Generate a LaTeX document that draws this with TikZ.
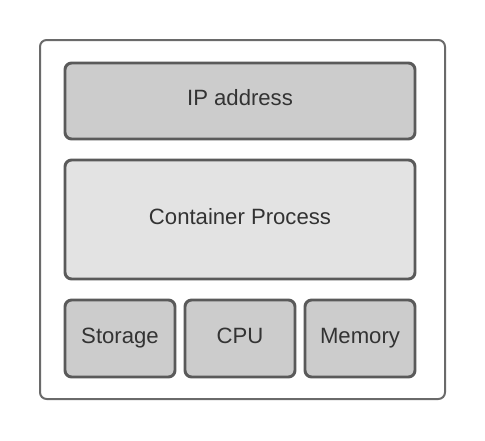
\documentclass[tikz,border=0pt]{standalone}
\usepackage{fontspec}
\setmainfont{Liberation Sans}
\definecolor{outerline}{HTML}{6A6A6A}
\definecolor{innerline}{HTML}{5A5A5A}
\definecolor{darkfill}{HTML}{CCCCCC}
\definecolor{lightfill}{HTML}{E3E3E3}
\definecolor{txt}{HTML}{333333}
\begin{document}
\begin{tikzpicture}[x=0.75pt,y=-0.75pt,
  outerbox/.style={draw=outerline,line width=1.5pt,rounded corners=5pt,fill=white},
  box/.style={draw=innerline,line width=2.2pt,rounded corners=5pt,text=txt,
    font=\fontsize{16.6}{19}\selectfont,text height=0.94em,text depth=0.22em},
  dbox/.style={box,fill=darkfill},
  lbox/.style={box,fill=lightfill}]
\useasboundingbox (0,0) rectangle (485,440);
\fill[white] (0,0) rectangle (485,440);
\draw[outerbox] (40,40) rectangle (445,399);
\draw[dbox] (65,63) rectangle node (ip) {IP address} (415,139);
\draw[lbox] (65,160) rectangle node (cp) {Container Process} (415,279);
\draw[dbox] (65,300) rectangle node (st) {Storage} (175,377);
\draw[dbox] (185,300) rectangle node (cpu) {CPU} (295,377);
\draw[dbox] (305,300) rectangle node (mem) {Memory} (415,377);
\end{tikzpicture}
\end{document}
